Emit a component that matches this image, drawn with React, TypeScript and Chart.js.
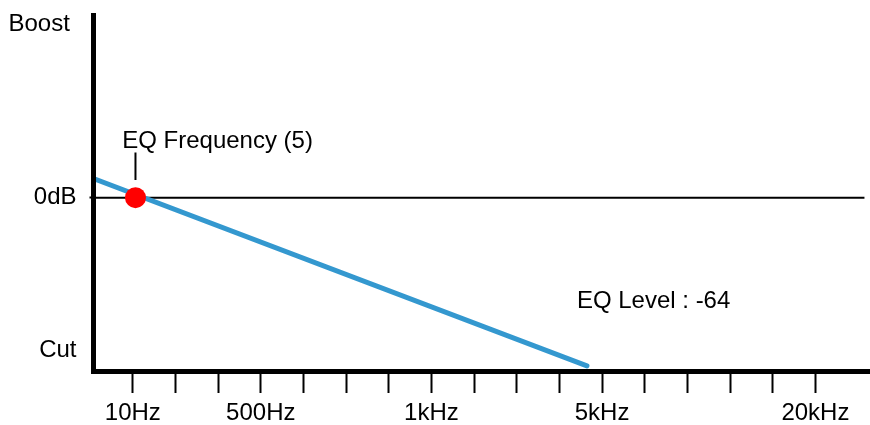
import React, { useEffect, useRef } from "react";
import { Chart, registerables } from "chart.js";

Chart.register(...registerables);

// X axis: tick slots (17 evenly spaced marks), with frequency labels on some
const xTickSlots = [0, 1, 2, 3, 4, 5, 6, 7, 8, 9, 10, 11, 12, 13, 14, 15, 16];
const xTickLabels = ["10Hz", "", "", "500Hz", "", "", "", "1kHz", "", "", "", "5kHz", "", "", "", "", "20kHz"];
const xMin = -0.921;
const xMax = 17.28;

// Y axis: relative level
const yTickValues = [-88, 0, 100];
const yTickLabels = ["Cut", "0dB", "Boost "];
const yMin = -100;
const yMax = 105.4;

// EQ response line
const eqCurveX = [-0.921, 10.645];
const eqCurveY = [11, -97];

// 0dB reference line
const zeroLineX = [-0.921, 17.15];
const zeroLineY = [0, 0];

// EQ frequency point and its marker
const eqPointX = [0.063];
const eqPointY = [0];
const markerX = [0.063, 0.063];
const markerY = [26, 10.2];

// Annotations (anchor in data space: left edge, vertical middle)
const annotTexts = ["EQ Frequency (5)", "EQ Level : -64"];
const annotX = [-0.248, 10.41];
const annotY = [32.7, -59.6];

const FONT = "'Liberation Sans', Arial, Helvetica, sans-serif";

const toPts = (xs: number[], ys: number[]) => xs.map((x, i) => ({ x, y: ys[i] }));

const annotationPlugin = {
  id: "annotText",
  afterDatasetsDraw(chart: any) {
    const { ctx, scales } = chart;
    ctx.save();
    ctx.font = `24px ${FONT}`;
    ctx.fillStyle = "#000";
    ctx.textAlign = "left";
    ctx.textBaseline = "middle";
    annotTexts.forEach((t, i) => {
      ctx.fillText(t, scales.x.getPixelForValue(annotX[i]), scales.y.getPixelForValue(annotY[i]));
    });
    ctx.restore();
  },
};

const zeroPad = (scale: any) => {
  scale.paddingLeft = 0;
  scale.paddingRight = 0;
  scale.paddingTop = 0;
  scale.paddingBottom = 0;
};

export default function App() {
  const ref = useRef<HTMLCanvasElement | null>(null);
  useEffect(() => {
    if (!ref.current) return;
    const chart = new Chart(ref.current, {
      type: "line",
      data: {
        datasets: [
          {
            data: toPts(eqPointX, eqPointY),
            showLine: false,
            pointRadius: 10.5,
            pointBackgroundColor: "#ff0000",
            pointBorderWidth: 0,
            borderColor: "#ff0000",
          },
          {
            data: toPts(eqCurveX, eqCurveY),
            borderColor: "#3498cf",
            borderWidth: 5,
            borderCapStyle: "round",
            pointRadius: 0,
          },
          {
            data: toPts(markerX, markerY),
            borderColor: "#000",
            borderWidth: 2,
            pointRadius: 0,
          },
          {
            data: toPts(zeroLineX, zeroLineY),
            borderColor: "#000",
            borderWidth: 2,
            pointRadius: 0,
          },
        ],
      },
      options: {
        responsive: false,
        animation: false,
        devicePixelRatio: 1,
        layout: { autoPadding: false, padding: { left: 0, top: 15, right: 0, bottom: 0 } },
        plugins: { legend: { display: false }, tooltip: { enabled: false } },
        scales: {
          x: {
            type: "linear",
            min: xMin,
            max: xMax,
            afterBuildTicks: (scale: any) => {
              scale.ticks = xTickSlots.map((v) => ({ value: v }));
            },
            afterFit: (scale: any) => {
              scale.height = 54;
              zeroPad(scale);
            },
            border: { display: true, color: "#000", width: 5, z: 1 },
            grid: {
              display: true,
              drawOnChartArea: false,
              drawTicks: true,
              tickLength: 22,
              tickWidth: 2,
              tickColor: "#000",
              color: "#000",
            },
            ticks: {
              autoSkip: false,
              maxRotation: 0,
              padding: 6,
              color: "#000",
              font: { size: 24, family: FONT },
              callback: (value: any) => {
                const i = xTickSlots.indexOf(Number(value));
                return i >= 0 ? xTickLabels[i] : "";
              },
            },
          },
          y: {
            type: "linear",
            min: yMin,
            max: yMax,
            afterBuildTicks: (scale: any) => {
              scale.ticks = yTickValues.map((v) => ({ value: v }));
            },
            afterFit: (scale: any) => {
              scale.width = 93.5;
              zeroPad(scale);
            },
            border: { display: true, color: "#000", width: 5, z: 1 },
            grid: {
              display: true,
              drawOnChartArea: false,
              drawTicks: true,
              tickLength: 4,
              tickWidth: 2,
              tickColor: (ctx: any) => (ctx.tick && ctx.tick.value === 0 ? "#000" : "rgba(0,0,0,0)"),
              color: "rgba(0,0,0,0)",
            },
            ticks: {
              autoSkip: false,
              padding: 13,
              color: "#000",
              font: { size: 24, family: FONT },
              callback: (value: any) => {
                const i = yTickValues.indexOf(Number(value));
                return i >= 0 ? yTickLabels[i] : "";
              },
            },
          },
        },
      },
      plugins: [annotationPlugin],
    } as any);
    return () => chart.destroy();
  }, []);

  return (
    <div style={{ position: "absolute", left: 0, top: 0, width: 870, height: 425, background: "#fff" }}>
      <canvas ref={ref} width={870} height={425} style={{ width: 870, height: 425 }} />
    </div>
  );
}
